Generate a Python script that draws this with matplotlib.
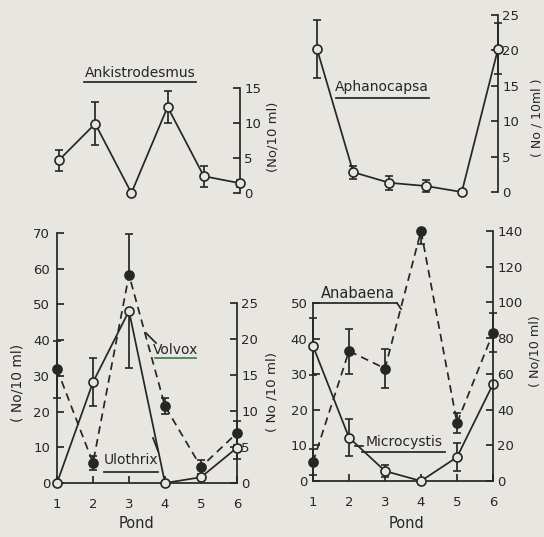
import matplotlib
matplotlib.use("Agg")
import matplotlib.pyplot as plt
from matplotlib.lines import Line2D

# ---------------- data ----------------
ponds = [1, 2, 3, 4, 5, 6]
pond_ticks = ["1", "2", "3", "4", "5", "6"]

ankistrodesmus = [4.7, 9.9, 0.0, 12.3, 2.4, 1.4]
ankistrodesmus_err = [1.5, 3.1, 0.0, 2.3, 1.5, 0.5]

aphanocapsa = [20.2, 2.8, 1.3, 0.85, 0.0, 20.2]
aphanocapsa_err = [4.1, 0.9, 1.0, 0.9, 0.0, 3.6]

volvox = [31.9, 5.6, 58.3, 21.5, 4.5, 14.0]          # left axis 0-70
volvox_err_lo = [8.0, 2.0, 0.0, 2.2, 2.0, 3.4]
volvox_err_hi = [8.0, 2.0, 11.5, 2.2, 2.0, 3.4]

ulothrix = [0.0, 14.0, 23.9, 0.0, 0.8, 4.9]           # right axis 0-25
ulothrix_err_lo = [0.0, 3.3, 7.9, 0.0, 0.0, 1.6]
ulothrix_err_hi = [0.0, 3.3, 0.0, 0.0, 0.0, 1.6]

anabaena = [10.6, 72.8, 63.0, 140.0, 32.5, 83.0]     # right axis 0-140
anabaena_err_lo = [7.5, 12.6, 11.0, 7.0, 5.6, 11.0]
anabaena_err_hi = [7.5, 12.6, 11.0, 0.0, 5.6, 11.0]

microcystis = [37.9, 12.2, 2.8, 0.0, 6.7, 27.2]       # left axis 0-50
microcystis_err = [8.0, 5.2, 1.8, 0.0, 3.9, 0.0]

ylabel_text = "No/10 ml"

# ---------------- style ----------------
W, H = 544, 537
BG = "#e8e6e1"
INK = "#262626"
LW = 1.25
FS = 9.5

fig = plt.figure(figsize=(W / 100, H / 100), dpi=100)
fig.patch.set_facecolor(BG)


def box(x0, y0, x1, y1):
    return [x0 / W, 1 - y1 / H, (x1 - x0) / W, (y1 - y0) / H]


def px(x, y):
    return (x / W, 1 - y / H)


def style_axis(ax, left=False, right=False, bottom=False):
    ax.patch.set_alpha(0)
    for side, vis in (("left", left), ("right", right), ("bottom", bottom), ("top", False)):
        ax.spines[side].set_visible(vis)
        ax.spines[side].set_color(INK)
        ax.spines[side].set_linewidth(LW)
    ax.tick_params(axis="both", direction="in", length=5, width=LW, colors=INK,
                   labelsize=FS, labelcolor=INK)


def series(ax, y, err, filled, dashed):
    kw = dict(color=INK, lw=LW, elinewidth=LW, capsize=3, capthick=LW,
              marker="o", ms=6.5, mew=1.2, clip_on=False, zorder=3)
    if filled:
        kw.update(mfc=INK, mec=INK)
    else:
        kw.update(mfc=BG, mec=INK)
    cont = ax.errorbar(ponds, y, yerr=err, **kw)
    if dashed:
        cont.lines[0].set_dashes((4.5, 3))
    for c in cont.lines[1]:
        c.set_clip_on(False)
    for c in cont.lines[2]:
        c.set_clip_on(False)
    return cont


def label_line(x0, y0, x1, y1, color=INK):
    fig.add_artist(Line2D([x0 / W, x1 / W], [1 - y0 / H, 1 - y1 / H],
                          color=color, lw=LW, transform=fig.transFigure))


def rot_label(x, y, s, fs=FS):
    fig.text(*px(x, y), s, rotation=90, ha="center", va="center",
             fontsize=fs, color=INK)


# ---------------- panel A: Ankistrodesmus ----------------
axA = fig.add_axes(box(59, 88, 240, 193))
style_axis(axA, right=True)
axA.set_xlim(1, 6)
axA.set_ylim(0, 15)
axA.set_xticks([])
axA.yaxis.tick_right()
axA.set_yticks([0, 5, 10, 15])
axA.tick_params(axis="y", pad=3)
series(axA, ankistrodesmus, ankistrodesmus_err, filled=False, dashed=False)
fig.text(*px(140, 73), "Ankistrodesmus", ha="center", va="center", fontsize=10, color=INK)
label_line(84, 82, 196, 82)
rot_label(273, 137, "(" + ylabel_text + ")")

# ---------------- panel B: Aphanocapsa ----------------
axB = fig.add_axes(box(317, 15, 498, 192))
style_axis(axB, right=True)
axB.set_xlim(1, 6)
axB.set_ylim(0, 25)
axB.set_xticks([])
axB.yaxis.tick_right()
axB.set_yticks([0, 5, 10, 15, 20, 25])
axB.tick_params(axis="y", pad=3)
series(axB, aphanocapsa, aphanocapsa_err, filled=False, dashed=False)
fig.text(*px(382, 87), "Aphanocapsa", ha="center", va="center", fontsize=10, color=INK)
label_line(336, 98, 429, 98)
rot_label(537, 118, "( No / 10ml )", fs=9)

# ---------------- panel C: Volvox / Ulothrix ----------------
axC = fig.add_axes(box(57, 233, 237, 483))
style_axis(axC, left=True, bottom=True)
axC.set_xlim(1, 6)
axC.set_ylim(0, 70)
axC.set_xticks(ponds)
axC.set_xticklabels(pond_ticks)
axC.set_yticks(range(0, 71, 10))
axC.tick_params(axis="x", pad=11)
axC.tick_params(axis="y", pad=5)
series(axC, volvox, [volvox_err_lo, volvox_err_hi], filled=True, dashed=True)

axC2 = axC.twinx()
style_axis(axC2, right=True)
axC2.set_ylim(0, 25 * 250 / 180)
axC2.spines["right"].set_bounds(0, 25)
axC2.set_yticks([0, 5, 10, 15, 20, 25])
axC2.tick_params(axis="y", pad=3)
series(axC2, ulothrix, [ulothrix_err_lo, ulothrix_err_hi], filled=False, dashed=False)

fig.text(*px(176, 350), "Volvox", ha="center", va="center", fontsize=10, color=INK)
label_line(155, 358, 196, 358, color="#3f7f4a")
label_line(146, 333, 156, 343)
fig.text(*px(131, 460), "Ulothrix", ha="center", va="center", fontsize=10, color=INK)
label_line(104, 472, 158, 472)
label_line(153, 438, 158, 451)
fig.text(*px(137, 523), "Pond", ha="center", va="center", fontsize=10.5, color=INK)
rot_label(18, 383, "( No/10 ml)", fs=10)
rot_label(272, 392, "( No /10 ml)", fs=9.7)

# ---------------- panel D: Anabaena / Microcystis ----------------
axD = fig.add_axes(box(313, 231, 493, 481))
style_axis(axD, left=True, bottom=True)
axD.set_xlim(1, 6)
axD.set_ylim(0, 50 * 250 / 178)
axD.spines["left"].set_bounds(0, 50)
axD.set_xticks(ponds)
axD.set_xticklabels(pond_ticks)
axD.set_yticks(range(0, 51, 10))
axD.tick_params(axis="x", pad=11)
axD.tick_params(axis="y", pad=4)
series(axD, microcystis, microcystis_err, filled=False, dashed=False)

axD2 = axD.twinx()
style_axis(axD2, right=True)
axD2.set_ylim(0, 140)
axD2.set_yticks(range(0, 141, 20))
axD2.tick_params(axis="y", pad=3)
series(axD2, anabaena, [anabaena_err_lo, anabaena_err_hi], filled=True, dashed=True)

fig.text(*px(358, 293), "Anabaena", ha="center", va="center", fontsize=10.5, color=INK)
label_line(313, 303, 397, 303)
label_line(397, 303, 401, 309)
fig.text(*px(404, 442), "Microcystis", ha="center", va="center", fontsize=10, color=INK)
label_line(362, 452, 445, 452)
label_line(355, 446, 363, 446)
fig.text(*px(407, 523), "Pond", ha="center", va="center", fontsize=10.5, color=INK)
rot_label(535, 351, "( No/10 ml)", fs=9.2)

fig.savefig("out.png", dpi=100, facecolor=BG)
